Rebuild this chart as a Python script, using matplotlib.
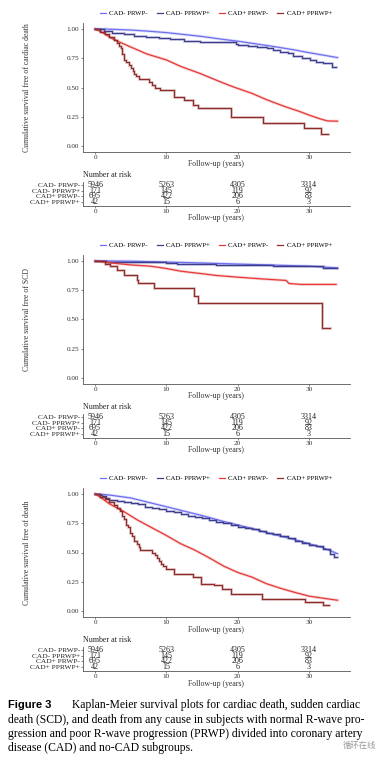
import matplotlib
matplotlib.use("Agg")
import matplotlib.pyplot as plt
from matplotlib.lines import Line2D

plt.rcParams['font.family'] = ['Liberation Serif', 'DejaVu Serif']

# groups / colours
groups = ["CAD- PRWP-", "CAD- PPRWP+", "CAD+ PRWP-", "CAD+ PPRWP+"]
colors = ["#6f6ff2", "#3d3d8e", "#e43a3a", "#8e2b2b"]

# number at risk (same table under each panel)
risk_times = [0, 10, 20, 30]
risk_neg_prwp = [5946, 5263, 4305, 3314]
risk_neg_pprwp = [171, 145, 119, 92]
risk_pos_prwp = [695, 422, 206, 83]
risk_pos_pprwp = [42, 15, 6, 3]

# --- panel 1: cardiac death ---
cd_neg_t = [0, 2, 5, 8, 10, 12, 15, 18, 20, 22, 25, 28, 30, 32, 34]
cd_neg_s = [1, 0.997, 0.99, 0.978, 0.968, 0.955, 0.935, 0.91, 0.895, 0.877, 0.85, 0.82, 0.797, 0.776, 0.755]
cd_negp_t = [0, 1.2, 2.3, 4.0, 5.5, 7.2, 9.0, 10.5, 12.5, 14.7, 19.8, 20.1, 21.5, 22.7, 24.1, 25.0,
             26.0, 27.0, 27.8, 29.0, 30.2, 31.0, 32.0, 33.2, 33.3, 33.8]
cd_negp_s = [1, 0.983, 0.965, 0.952, 0.94, 0.93, 0.922, 0.915, 0.9, 0.89, 0.875, 0.865, 0.855, 0.848,
             0.835, 0.82, 0.806, 0.79, 0.77, 0.752, 0.735, 0.72, 0.707, 0.692, 0.672, 0.672]
cd_pos_t = [0, 1, 2.6, 5, 7.3, 10, 12, 14.7, 17.5, 19.4, 22, 24.1, 26.5, 28.8, 30, 31.6, 32.6, 34]
cd_pos_s = [1, 0.97, 0.91, 0.845, 0.785, 0.735, 0.68, 0.62, 0.55, 0.505, 0.45, 0.395, 0.34, 0.293,
            0.265, 0.232, 0.215, 0.213]
cd_posp_t = [0, 0.7, 1.4, 2.0, 2.6, 3.1, 3.3, 3.6, 3.8, 4.1, 4.4, 4.7, 5.0, 5.3, 5.5, 5.8, 6.1, 7.6,
             8.0, 8.4, 9.1, 11.0, 12.4, 13.8, 14.5, 19.0, 23.5, 29.3, 31.7, 32.6]
cd_posp_s = [1, 0.976, 0.952, 0.929, 0.905, 0.881, 0.857, 0.833, 0.786, 0.738, 0.714, 0.69, 0.667,
             0.643, 0.619, 0.595, 0.571, 0.547, 0.523, 0.5, 0.476, 0.42, 0.39, 0.355, 0.322, 0.245,
             0.2, 0.152, 0.1, 0.1]

# --- panel 2: SCD ---
scd_neg_t = [0, 5, 10, 15, 20, 25, 30, 34]
scd_neg_s = [1, 0.997, 0.99, 0.982, 0.973, 0.964, 0.955, 0.94]
scd_negp_t = [0, 1.5, 10.0, 11.5, 17.0, 25.0, 29.0, 32.0, 34.0]
scd_negp_s = [1, 0.994, 0.985, 0.975, 0.963, 0.958, 0.952, 0.937, 0.937]
scd_pos_t = [0, 2.1, 4.9, 7.7, 10, 12, 14.8, 17.1, 20, 23.2, 26.8, 27.2, 28.9, 33.8]
scd_pos_s = [1, 0.983, 0.966, 0.955, 0.935, 0.912, 0.892, 0.875, 0.861, 0.847, 0.833, 0.807, 0.799, 0.799]
scd_posp_t = [0, 1.4, 2.1, 3.1, 4.0, 5.9, 6.0, 8.3, 13.9, 14.5, 31.8, 32.9]
scd_posp_s = [1, 0.976, 0.952, 0.92, 0.877, 0.84, 0.807, 0.77, 0.70, 0.637, 0.43, 0.43]

# --- panel 3: death ---
d_neg_t = [0, 2, 5, 8, 10, 12, 15, 18, 20, 22, 25, 28, 30, 32, 34]
d_neg_s = [1, 0.99, 0.965, 0.92, 0.89, 0.86, 0.815, 0.765, 0.735, 0.705, 0.655, 0.61, 0.575, 0.54, 0.49]
d_negp_t = [0, 0.5, 1, 1.5, 2, 3, 4, 5, 6, 7, 8, 9, 10, 11, 12, 13, 14, 15, 16, 17, 18, 19, 20, 21,
            22, 23, 24, 25, 26, 27, 28, 29, 30, 31, 32, 33, 33.5, 34]
d_negp_s = [1, 0.994, 0.982, 0.965, 0.947, 0.935, 0.93, 0.92, 0.91, 0.89, 0.88, 0.87, 0.855, 0.845,
            0.83, 0.815, 0.80, 0.79, 0.775, 0.76, 0.75, 0.735, 0.72, 0.71, 0.70, 0.685, 0.67, 0.655,
            0.64, 0.62, 0.60, 0.585, 0.565, 0.555, 0.53, 0.49, 0.465, 0.465]
d_pos_t = [0, 1, 2, 4, 6, 8, 10, 12, 14, 16, 18, 20, 22, 24, 26, 28, 30, 32, 34]
d_pos_s = [1, 0.96, 0.915, 0.85, 0.775, 0.71, 0.645, 0.575, 0.52, 0.455, 0.385, 0.33, 0.29, 0.235,
           0.195, 0.16, 0.128, 0.11, 0.093]
d_posp_t = [0, 0.7, 1.4, 2.0, 2.6, 3.0, 3.5, 3.8, 4.0, 4.3, 4.6, 4.9, 5.2, 5.5, 5.9, 6.1, 6.3, 8.0,
            8.4, 8.7, 8.9, 9.2, 9.5, 9.9, 11.0, 13.8, 14.8, 16.7, 17.8, 19.0, 23.4, 29.5, 31.9, 32.8]
d_posp_s = [1, 0.976, 0.952, 0.929, 0.905, 0.881, 0.857, 0.81, 0.786, 0.738, 0.714, 0.667, 0.643,
            0.595, 0.571, 0.548, 0.524, 0.50, 0.476, 0.452, 0.428, 0.405, 0.381, 0.357, 0.32, 0.29,
            0.235, 0.22, 0.187, 0.15, 0.10, 0.08, 0.05, 0.05]

ylabels = ["Cumulative survival free of cardiac death",
           "Cumulative survival free of SCD",
           "Cumulative survival free of death"]

W, H = 384, 766
fig = plt.figure(figsize=(W / 100, H / 100), dpi=100)
fig.patch.set_facecolor("white")

X0, X1 = 83, 349.6
spine_c = "#555555"


def rect(l, t, r, b):
    return [l / W, 1 - b / H, (r - l) / W, (b - t) / H]


def fy(y):
    return 1 - y / H


def style(ax):
    for s in ["top", "right"]:
        ax.spines[s].set_visible(False)
    for s in ["left", "bottom"]:
        ax.spines[s].set_color(spine_c)
        ax.spines[s].set_linewidth(0.6)
    ax.tick_params(length=1.5, width=0.5, color=spine_c, pad=0.6, labelsize=5.2, labelcolor="#333333")
    ax.tick_params(axis="y", pad=1.2)
    ax.set_xlim(-1.7, 35.7)
    ax.set_xticks([0, 10, 20, 30])


def curve(ax, t, s, c, step):
    ds = "steps-post" if step else "default"
    ax.plot(t, s, color=c, lw=2.1, alpha=0.22, drawstyle=ds, solid_joinstyle="miter")
    ax.plot(t, s, color=c, lw=0.9, drawstyle=ds)


panels = [
    (23, [(cd_neg_t, cd_neg_s, False), (cd_negp_t, cd_negp_s, True),
          (cd_pos_t, cd_pos_s, False), (cd_posp_t, cd_posp_s, True)]),
    (255, [(scd_neg_t, scd_neg_s, False), (scd_negp_t, scd_negp_s, True),
           (scd_pos_t, scd_pos_s, False), (scd_posp_t, scd_posp_s, True)]),
    (488, [(d_neg_t, d_neg_s, False), (d_negp_t, d_negp_s, True),
           (d_pos_t, d_pos_s, False), (d_posp_t, d_posp_s, True)]),
]
risk_rows = [risk_neg_prwp, risk_neg_pprwp, risk_pos_prwp, risk_pos_pprwp]

for i, (top, series) in enumerate(panels):
    bot = top + 129
    ax = fig.add_axes(rect(X0, top, X1, bot))
    style(ax)
    for (t, s, st), c in zip(series, colors):
        curve(ax, t, s, c, st)
    ax.set_ylim(-0.05, 1.05)
    ax.set_yticks([0, 0.25, 0.5, 0.75, 1.0])
    ax.set_yticklabels(["0.00", "0.25", "0.50", "0.75", "1.00"])

    # legend on top
    handles = [Line2D([], [], color=c, lw=0.9) for c in colors]
    ax.legend(handles, groups, loc="center", bbox_to_anchor=(216 / W, fy(top - 10)),
              bbox_transform=fig.transFigure, ncol=4, frameon=False, fontsize=4.9,
              handlelength=0.9, handletextpad=0.5, columnspacing=1.3, borderpad=0)

    fig.text(216 / W, fy(bot + 12.5), "Follow-up (years)", ha="center", va="center",
             fontsize=5.6, color="#333333")
    fig.text(27 / W, fy((top + bot) / 2), ylabels[i], rotation=90, ha="center", va="center",
             fontsize=5.6, color="#333333")

    # risk table
    fig.text(X0 / W, fy(bot + 23), "Number at risk", ha="left", va="center",
             fontsize=5.8, color="#222222")
    rax = fig.add_axes(rect(X0, bot + 30, X1, bot + 54))
    style(rax)
    rax.set_ylim(0.3, 4.53)
    rax.set_yticks([4, 3, 2, 1])
    rax.set_yticklabels(groups, fontsize=5.3, color="#222222")
    rax.tick_params(axis="y", length=1.2, pad=0.8)
    for k, row in enumerate(risk_rows):
        for tt, n in zip(risk_times, row):
            rax.text(tt, 4 - k, str(n), ha="center", va="center", fontsize=5.8, color="#222222")
    fig.text(216 / W, fy(bot + 66.5), "Follow-up (years)", ha="center", va="center",
             fontsize=5.6, color="#333333")

# caption
cap_y = [705, 719.5, 734, 748.5]
fig.text(8 / W, fy(cap_y[0]), "Figure 3", ha="left", va="center", fontsize=8,
         fontweight="bold", family=["Liberation Sans", "DejaVu Sans"])
fig.text(72 / W, fy(cap_y[0]), "Kaplan-Meier survival plots for cardiac death, sudden cardiac",
         ha="left", va="center", fontsize=8.4)
fig.text(8 / W, fy(cap_y[1]), "death (SCD), and death from any cause in subjects with normal R-wave pro-",
         ha="left", va="center", fontsize=8.4)
fig.text(8 / W, fy(cap_y[2]), "gression and poor R-wave progression (PRWP) divided into coronary artery",
         ha="left", va="center", fontsize=8.4)
fig.text(8 / W, fy(cap_y[3]), "disease (CAD) and no-CAD subgroups.", ha="left", va="center", fontsize=8.4)
fig.text(343 / W, fy(745), "循环在线", ha="left", va="center", fontsize=6, color="#9a9a9a",
         family=["Noto Sans CJK SC", "DejaVu Sans"])

fig.savefig("out.png", dpi=100)
